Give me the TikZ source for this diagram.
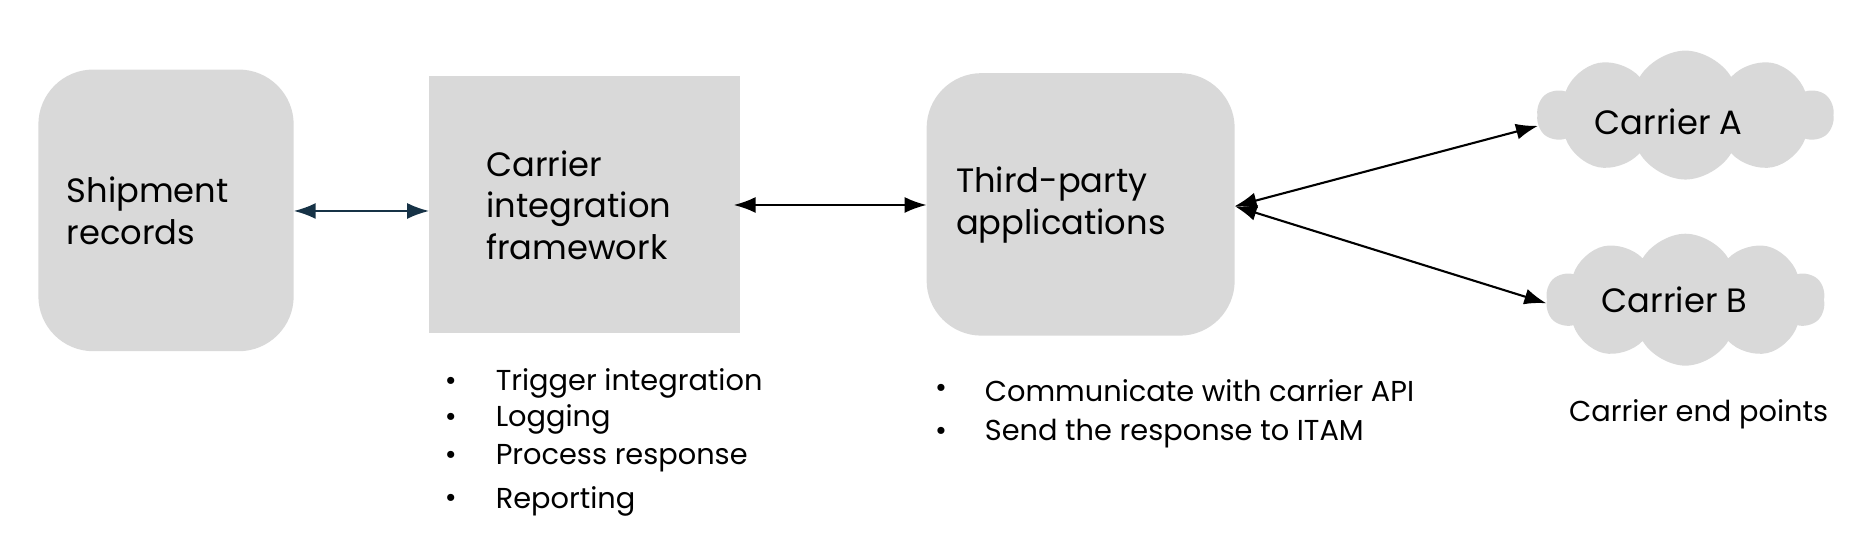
\documentclass[tikz,border=0pt]{standalone}
\usepackage{fontspec}
\setmainfont{Poppins}
\usetikzlibrary{shapes.symbols,arrows.meta,positioning}
\definecolor{boxgray}{RGB}{217,217,217}
\definecolor{navy}{RGB}{22,50,70}
\begin{document}
\begin{tikzpicture}[x=0.011987cm,y=-0.011987cm,
	lbl/.style = {font=\fontsize{9.6}{11.8}\selectfont, align=left, anchor=west, inner sep=0},
	item/.style = {font=\fontsize{8.2}{10}\selectfont, anchor=west, inner sep=0},
	dot/.style = {font=\fontsize{8.2}{10}\selectfont, inner sep=0},
	link/.style = {{Latex[length=2.2mm,width=1.6mm]}-{Latex[length=2.2mm,width=1.6mm]}, line width=0.6pt},
	cld/.style = {cloud, cloud puffs=10, cloud puff arc=120, fill=boxgray, draw=none}]
\useasboundingbox (0,0) rectangle (1560,465);
% boxes
\path[fill=boxgray, rounded corners=0.55cm] (32,58) rectangle (245,293);
\path[fill=boxgray] (358,63) rectangle (617,278);
\path[fill=boxgray, rounded corners=0.55cm] (773,61) rectangle (1030,280);
\node[cld, minimum width=2.96cm, minimum height=1.29cm] (carA) at (1406,96) {};
\node[cld, minimum width=2.79cm, minimum height=1.32cm] (carB) at (1406,250) {};
% labels
\node[lbl] (shiptxt) at (55,176) {Shipment\\records};
\node[lbl] (frametxt) at (405,171) {Carrier\\integration\\framework};
\node[lbl] (thirdtxt) at (797,171) {Third-party\\applications};
\node[lbl, anchor=center] (catxt) at (1392,102) {Carrier A};
\node[lbl, anchor=center] (cbtxt) at (1397,250) {Carrier B};
% connectors
\coordinate (s1) at (245,176); \coordinate (f1) at (358,176);
\coordinate (f2) at (612,171); \coordinate (t1) at (773,171);
\coordinate (t2) at (1030,172);
\coordinate (a1) at (1283,105); \coordinate (b1) at (1290,253);
\draw[link, navy] (s1) -- (f1);
\draw[link] (f2) -- (t1);
\draw[link] (t2) -- (a1);
\draw[link] (t2) -- (b1);
% bullet lists
\foreach \y/\t [count=\i] in {320/Trigger integration, 350/Logging, 382/Process response, 418/Reporting} {
	\node[dot] (fd\i) at (376,\y) {•};
	\node[item] (fi\i) at (413,\y) {\t};
}
\foreach \y/\t [count=\i] in {326/Communicate with carrier API, 362/Send the response to ITAM} {
	\node[dot] (td\i) at (785,\y) {•};
	\node[item] (ti\i) at (821,\y) {\t};
}
\node[item, anchor=center] (endpts) at (1417,346) {Carrier end points};
\end{tikzpicture}
\end{document}
